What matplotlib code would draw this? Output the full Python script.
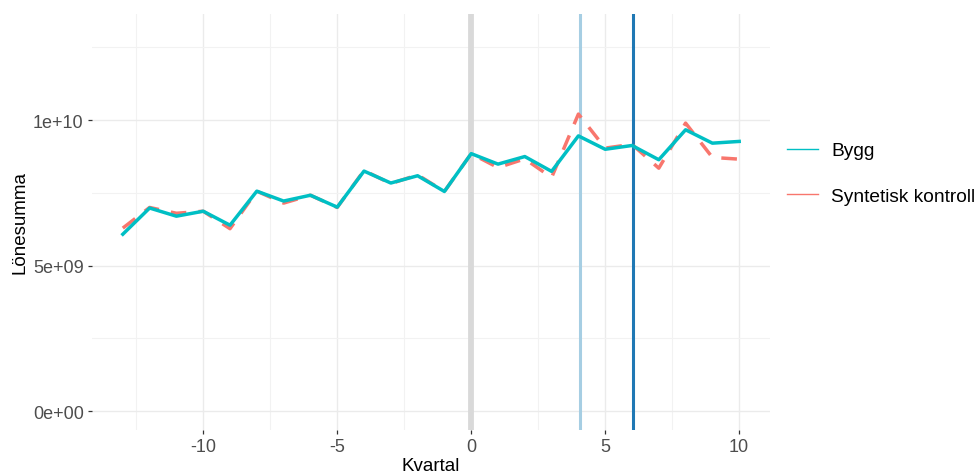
import numpy as np
import matplotlib.pyplot as plt
from matplotlib.lines import Line2D
from matplotlib.ticker import FixedLocator, FixedFormatter

# ----------------------------
# Data (values in 1e9)
# ----------------------------

kvartal = list(range(-13, 11))

bygg = [6.08, 6.98, 6.70, 6.87, 6.39, 7.56, 7.22, 7.42, 7.01, 8.25, 7.84, 8.09,
        7.55, 8.85, 8.49, 8.75, 8.24, 9.46, 9.00, 9.13, 8.64, 9.67, 9.21, 9.27]

syntetisk = [6.29, 7.00, 6.80, 6.87, 6.27, 7.56, 7.15, 7.42, 7.00, 8.27, 7.82, 8.12,
             7.55, 8.85, 8.37, 8.67, 8.03, 10.21, 9.04, 9.17, 8.35, 9.90, 8.72, 8.66]

# vertical markers (quarter positions)
events = [0, 4.05, 6.05]
event_colors = ["#D9D9D9", "#A6CEE3", "#1F78B4"]
event_widths = [4.2, 2.2, 2.2]

y_ticks = [0, 5e9, 1e10]
y_labels = ["0e+00", "5e+09", "1e+10"]
x_ticks = [-10, -5, 0, 5, 10]

teal = "#00BFC4"
salmon = "#F8766D"

# ----------------------------
# Plot
# ----------------------------

plt.rcParams["font.family"] = ["Liberation Sans", "DejaVu Sans"]
plt.rcParams["axes.unicode_minus"] = False

fig = plt.figure(figsize=(9.78, 4.77), dpi=100)
ax = fig.add_axes([92 / 978, 46 / 477, 678 / 978, 416 / 477])

for xv, c, w in zip(events, event_colors, event_widths):
    ax.axvline(xv, color=c, lw=w, zorder=2)

y_bygg = np.array(bygg) * 1e9
y_synt = np.array(syntetisk) * 1e9

ax.plot(kvartal, y_synt, color=salmon, lw=2.5, dashes=(4.5, 3.5), zorder=3)
ax.plot(kvartal, y_bygg, color=teal, lw=2.5, zorder=4)

ax.set_xlim(-14.15, 11.15)
ax.set_ylim(-0.65e9, 13.65e9)

ax.xaxis.set_major_locator(FixedLocator(x_ticks))
ax.xaxis.set_minor_locator(FixedLocator([-12.5, -7.5, -2.5, 2.5, 7.5]))
ax.yaxis.set_major_locator(FixedLocator(y_ticks))
ax.yaxis.set_major_formatter(FixedFormatter(y_labels))
ax.yaxis.set_minor_locator(FixedLocator([2.5e9, 7.5e9, 12.5e9]))

ax.grid(True, which="major", color="#EBEBEB", lw=1.0, zorder=0)
ax.grid(True, which="minor", color="#F2F2F2", lw=0.8, zorder=0)
ax.set_axisbelow(True)

for s in ax.spines.values():
    s.set_visible(False)

ax.tick_params(which="major", length=3, width=0.9, color="#333333",
               labelsize=13, labelcolor="#4D4D4D", pad=3)
ax.tick_params(which="minor", length=0)

ax.set_xlabel("Kvartal", fontsize=13.5, labelpad=1)
ax.set_ylabel("Lönesumma", fontsize=13.5, labelpad=3)

handles = [Line2D([], [], color=teal, lw=1.0),
           Line2D([], [], color=salmon, lw=1.0)]
fig.legend(handles, ["Bygg", "Syntetisk kontroll"], loc="upper left",
           bbox_to_anchor=(787 / 978, 1 - 143 / 477), frameon=False,
           fontsize=13.8, handlelength=1.6, handletextpad=0.7,
           labelspacing=1.45, borderpad=0, borderaxespad=0)

fig.savefig("out.png", dpi=100)
